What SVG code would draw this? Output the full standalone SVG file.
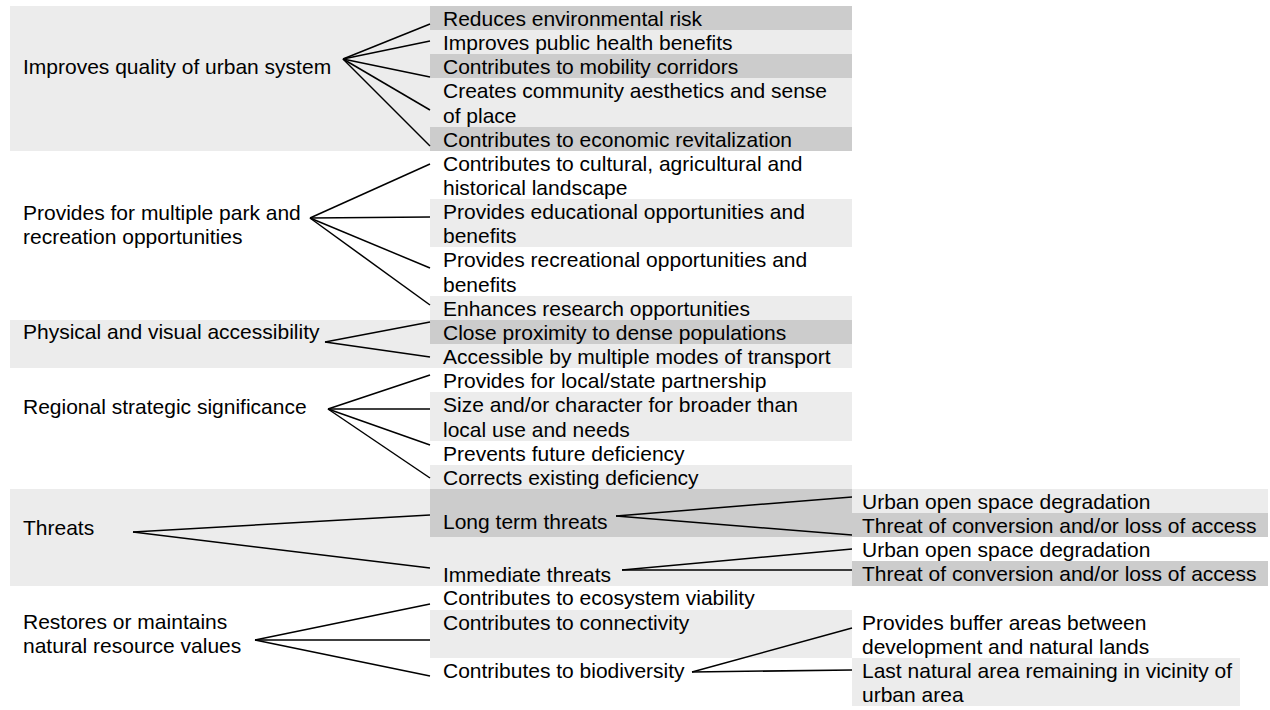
<svg xmlns="http://www.w3.org/2000/svg" width="1270" height="710" viewBox="0 0 1270 710">
<style>
.lt{fill:#ececec}
.dk{fill:#cccccc}
text{font-family:"Liberation Sans",Arial,Helvetica,sans-serif;font-size:21px;fill:#000}
.cn line{stroke:#000;stroke-width:1.5;fill:none}
</style>
<rect x="0" y="0" width="1270" height="710" fill="#ffffff"/>
<g id="bands">
<rect class="lt" x="10" y="6" width="842" height="145"/>
<rect class="lt" x="10" y="320" width="842" height="48"/>
<rect class="lt" x="10" y="489" width="842" height="97"/>
</g>
<g id="n-quality"><text x="23" y="74">Improves quality of urban system</text></g>
<g id="n-q1"><rect class="dk" x="430" y="6" width="422" height="24"/><text x="443" y="26">Reduces environmental risk</text></g>
<g id="n-q2"><text x="443" y="50">Improves public health benefits</text></g>
<g id="n-q3"><rect class="dk" x="430" y="54" width="422" height="24"/><text x="443" y="74">Contributes to mobility corridors</text></g>
<g id="n-q4"><text x="443" y="98">Creates community aesthetics and sense</text><text x="443" y="123">of place</text></g>
<g id="n-q5"><rect class="dk" x="430" y="127" width="422" height="24"/><text x="443" y="147">Contributes to economic revitalization</text></g>
<g id="n-park"><text x="23" y="220">Provides for multiple park and</text><text x="23" y="244">recreation opportunities</text></g>
<g id="n-p1"><text x="443" y="171">Contributes to cultural, agricultural and</text><text x="443" y="195">historical landscape</text></g>
<g id="n-p2"><rect class="lt" x="430" y="199" width="422" height="48"/><text x="443" y="219">Provides educational opportunities and</text><text x="443" y="243">benefits</text></g>
<g id="n-p3"><text x="443" y="267">Provides recreational opportunities and</text><text x="443" y="292">benefits</text></g>
<g id="n-p4"><rect class="lt" x="430" y="296" width="422" height="24"/><text x="443" y="316">Enhances research opportunities</text></g>
<g id="n-access"><text x="23" y="339">Physical and visual accessibility</text></g>
<g id="n-a1"><rect class="dk" x="430" y="320" width="422" height="24"/><text x="443" y="340">Close proximity to dense populations</text></g>
<g id="n-a2"><text x="443" y="364">Accessible by multiple modes of transport</text></g>
<g id="n-regional"><text x="23" y="414">Regional strategic significance</text></g>
<g id="n-r1"><text x="443" y="388">Provides for local/state partnership</text></g>
<g id="n-r2"><rect class="lt" x="430" y="392" width="422" height="49"/><text x="443" y="412">Size and/or character for broader than</text><text x="443" y="437">local use and needs</text></g>
<g id="n-r3"><text x="443" y="461">Prevents future deficiency</text></g>
<g id="n-r4"><rect class="lt" x="430" y="465" width="422" height="24"/><text x="443" y="485">Corrects existing deficiency</text></g>
<g id="n-threats"><text x="23" y="535">Threats</text></g>
<g id="n-longterm"><rect class="dk" x="430" y="489" width="422" height="48"/><text x="443" y="529">Long term threats</text></g>
<g id="n-immediate"><text x="443" y="582">Immediate threats</text></g>
<g id="n-t1"><rect class="lt" x="852" y="489" width="416" height="24"/><text x="862" y="509">Urban open space degradation</text></g>
<g id="n-t2"><rect class="dk" x="852" y="513" width="416" height="24"/><text x="862" y="533">Threat of conversion and/or loss of access</text></g>
<g id="n-t3"><text x="862" y="557">Urban open space degradation</text></g>
<g id="n-t4"><rect class="dk" x="852" y="561" width="416" height="25"/><text x="862" y="581">Threat of conversion and/or loss of access</text></g>
<g id="n-restores"><text x="23" y="629">Restores or maintains</text><text x="23" y="653">natural resource values</text></g>
<g id="n-e1"><text x="443" y="605">Contributes to ecosystem viability</text></g>
<g id="n-e2"><rect class="lt" x="430" y="610" width="422" height="48"/><text x="443" y="630">Contributes to connectivity</text></g>
<g id="n-e3"><text x="443" y="678">Contributes to biodiversity</text></g>
<g id="n-b1"><text x="862" y="630">Provides buffer areas between</text><text x="862" y="654">development and natural lands</text></g>
<g id="n-b2"><rect class="lt" x="852" y="658" width="388" height="48"/><text x="862" y="678">Last natural area remaining in vicinity of</text><text x="862" y="702">urban area</text></g>
<g id="connectors" class="cn">
<line x1="343" y1="59" x2="430" y2="24"/>
<line x1="343" y1="59" x2="430" y2="41"/>
<line x1="343" y1="59" x2="430" y2="77"/>
<line x1="343" y1="59" x2="430" y2="110"/>
<line x1="343" y1="59" x2="430" y2="146"/>
<line x1="310" y1="218" x2="430" y2="164"/>
<line x1="310" y1="218" x2="430" y2="217"/>
<line x1="310" y1="218" x2="430" y2="268"/>
<line x1="310" y1="218" x2="430" y2="305"/>
<line x1="325" y1="342" x2="430" y2="322"/>
<line x1="325" y1="342" x2="430" y2="357"/>
<line x1="328" y1="409" x2="430" y2="375"/>
<line x1="328" y1="409" x2="430" y2="409"/>
<line x1="328" y1="409" x2="430" y2="445"/>
<line x1="328" y1="409" x2="430" y2="478"/>
<line x1="133" y1="532" x2="430" y2="515"/>
<line x1="133" y1="532" x2="430" y2="568"/>
<line x1="616" y1="516" x2="852" y2="497"/>
<line x1="616" y1="516" x2="852" y2="535"/>
<line x1="622" y1="570" x2="852" y2="549"/>
<line x1="622" y1="570" x2="852" y2="570"/>
<line x1="255" y1="640" x2="430" y2="604"/>
<line x1="255" y1="640" x2="430" y2="640"/>
<line x1="255" y1="640" x2="430" y2="676"/>
<line x1="692" y1="672" x2="852" y2="628"/>
<line x1="692" y1="672" x2="852" y2="670"/>
</g>
</svg>
